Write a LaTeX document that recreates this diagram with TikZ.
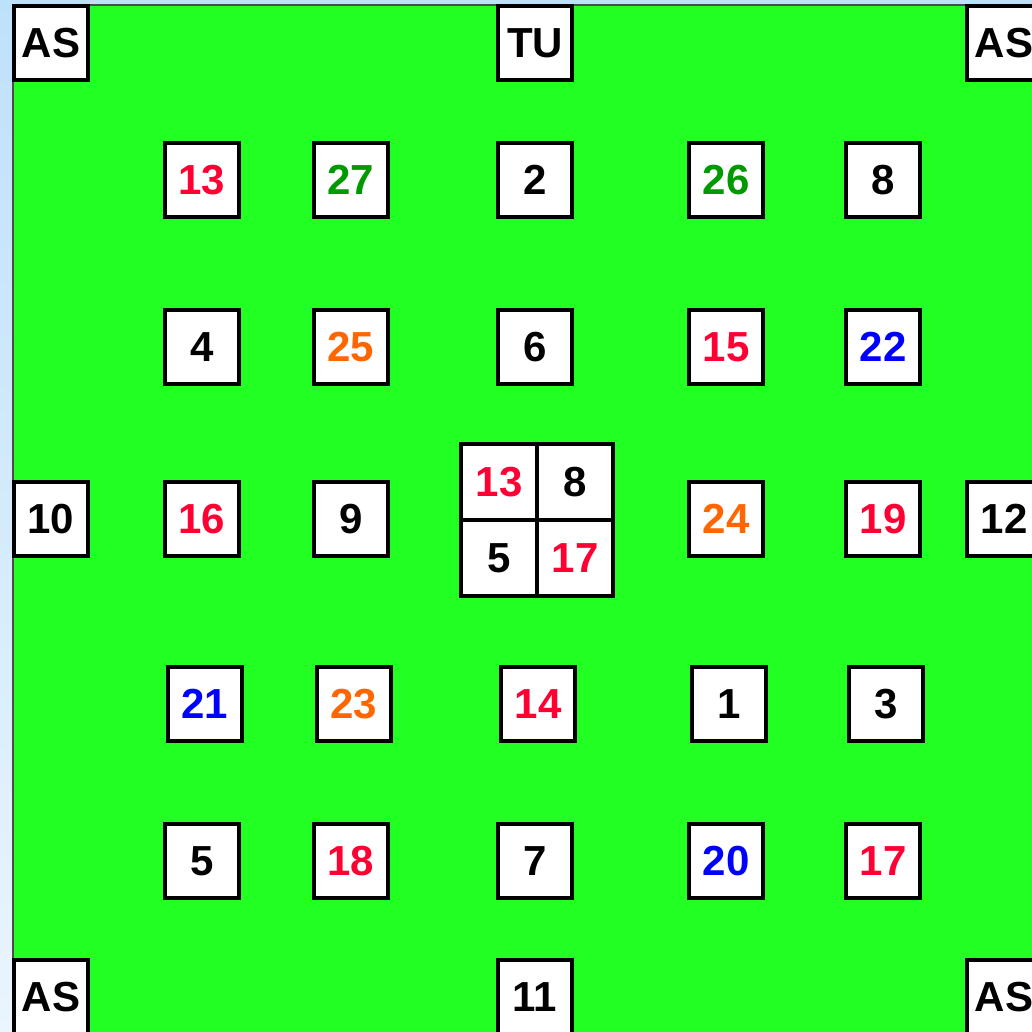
\documentclass[tikz,border=0pt]{standalone}
\usepackage{fontspec}
\setmainfont{Liberation Sans}
\definecolor{fieldgreen}{RGB}{34,255,34}
\definecolor{nred}{RGB}{255,0,51}
\definecolor{ngreen}{RGB}{0,153,0}
\definecolor{norange}{RGB}{255,102,0}
\definecolor{nblue}{RGB}{0,0,255}
\definecolor{skytop}{RGB}{190,225,250}
\definecolor{skybot}{RGB}{234,245,253}
\begin{document}
\begin{tikzpicture}[x=1pt,y=-1pt,
  cell/.style={draw=black,fill=white,line width=4pt,minimum size=74pt,inner sep=0pt,
    font=\fontsize{42}{42}\selectfont\bfseries},
  qcell/.style={cell,minimum size=76pt}]
\useasboundingbox (0,0) rectangle (1032,1032);
\clip (0,0) rectangle (1032,1032);
\shade[top color=skytop,bottom color=skybot] (0,0) rectangle (1032,1032);
\draw[fill=fieldgreen,draw=black!70,line width=1.2pt] (13,5) rectangle (1045,1045);
% row 1
\node[cell] (as1) at (51,43) {AS};
\node[cell] (tu) at (535,43) {TU};
\node[cell] (as2) at (1004,43) {AS};
% row 2
\node[cell,text=nred] (r2a) at (202,180) {13};
\node[cell,text=ngreen] (r2b) at (351,180) {27};
\node[cell] (r2c) at (535,180) {2};
\node[cell,text=ngreen] (r2d) at (726,180) {26};
\node[cell] (r2e) at (883,180) {8};
% row 3
\node[cell] (r3a) at (202,347) {4};
\node[cell,text=norange] (r3b) at (351,347) {25};
\node[cell] (r3c) at (535,347) {6};
\node[cell,text=nred] (r3d) at (726,347) {15};
\node[cell,text=nblue] (r3e) at (883,347) {22};
% row 4
\node[cell] (r4l) at (51,519) {10};
\node[cell,text=nred] (r4a) at (202,519) {16};
\node[cell] (r4b) at (351,519) {9};
\node[cell,text=norange] (r4d) at (726,519) {24};
\node[cell,text=nred] (r4e) at (883,519) {19};
\node[cell] (r4r) at (1004,519) {12};
% centre quad
\node[qcell,text=nred] (qa) at (499,482) {13};
\node[qcell] (qb) at (575,482) {8};
\node[qcell] (qc) at (499,558) {5};
\node[qcell,text=nred] (qd) at (575,558) {17};
% row 5
\node[cell,text=nblue] (r5a) at (205,704) {21};
\node[cell,text=norange] (r5b) at (354,704) {23};
\node[cell,text=nred] (r5c) at (538,704) {14};
\node[cell] (r5d) at (729,704) {1};
\node[cell] (r5e) at (886,704) {3};
% row 6
\node[cell] (r6a) at (202,861) {5};
\node[cell,text=nred] (r6b) at (351,861) {18};
\node[cell] (r6c) at (535,861) {7};
\node[cell,text=nblue] (r6d) at (726,861) {20};
\node[cell,text=nred] (r6e) at (883,861) {17};
% row 7
\node[cell] (as3) at (51,997) {AS};
\node[cell] (r7c) at (535,997) {11};
\node[cell] (as4) at (1004,997) {AS};
\end{tikzpicture}
\end{document}
